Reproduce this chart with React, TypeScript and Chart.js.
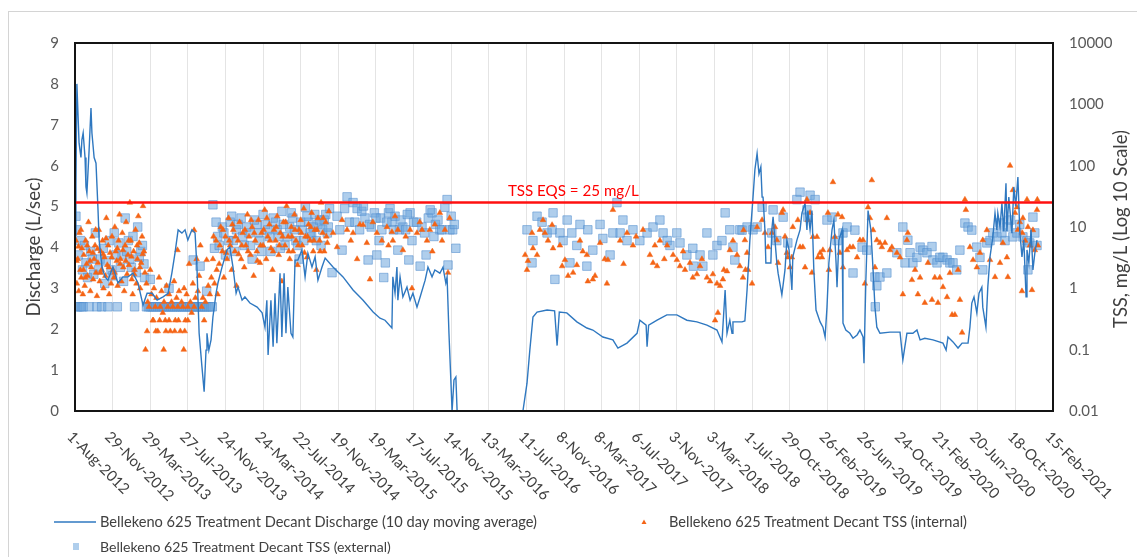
import { useEffect, useRef } from 'react';
import { Chart, registerables } from 'chart.js';

Chart.register(...registerables);

// ---------- DATA ----------
// x values are days since 1-Aug-2012 (the axis start)
const X_TICK_LABELS = [
  '1-Aug-2012', '29-Nov-2012', '29-Mar-2013', '27-Jul-2013', '24-Nov-2013', '24-Mar-2014',
  '22-Jul-2014', '19-Nov-2014', '19-Mar-2015', '17-Jul-2015', '14-Nov-2015', '13-Mar-2016',
  '11-Jul-2016', '8-Nov-2016', '8-Mar-2017', '6-Jul-2017', '3-Nov-2017', '3-Mar-2018',
  '1-Jul-2018', '29-Oct-2018', '26-Feb-2019', '26-Jun-2019', '24-Oct-2019', '21-Feb-2020',
  '20-Jun-2020', '18-Oct-2020', '15-Feb-2021',
];
const X_MIN = 0;
const X_MAX = 3120;
const X_STEP = 120;

const LEFT_TICKS = [0, 1, 2, 3, 4, 5, 6, 7, 8, 9];
const RIGHT_TICKS = [0.01, 0.1, 1, 10, 100, 1000, 10000];
const RIGHT_TICK_LABELS = ['0.01', '0.1', '1', '10', '100', '1000', '10000'];

const TSS_EQS = 25;
const EQS_LABEL = 'TSS EQS = 25 mg/L';
const EQS_LABEL_DAY = 1381;

const SERIES_NAMES = [
  'Bellekeno 625 Treatment Decant Discharge (10 day moving average)',
  'Bellekeno 625 Treatment Decant TSS (internal)',
  'Bellekeno 625 Treatment Decant TSS (external)',
];
const AXIS_LEFT_TITLE = 'Discharge (L/sec)';
const AXIS_RIGHT_TITLE = 'TSS, mg/L (Log 10 Scale)';

// Discharge (L/sec), 10 day moving average: [day, value]
const DISCHARGE: [number, number][] = [
  [0, 4.3], [3, 5.5], [6, 8.0], [13, 6.55], [19, 6.2], [22, 6.63], [26, 6.8], [32, 6.2], [35, 5.48], [38, 5.33],
  [45, 6.38], [51, 7.41], [54, 6.8], [61, 6.2], [67, 6.06], [73, 5.0], [77, 4.18], [86, 3.52], [96, 3.28], [105, 3.2],
  [121, 3.52], [137, 3.13], [153, 3.28], [169, 3.28], [185, 3.37], [201, 3.13], [217, 2.59], [230, 2.88], [246, 2.88],
  [262, 2.71], [281, 2.79], [297, 2.88], [309, 3.37], [319, 3.86], [329, 4.43], [341, 4.35], [351, 4.43], [360, 4.18],
  [373, 4.43], [383, 4.35], [389, 3.52], [396, 1.9], [405, 1.08], [412, 0.47], [418, 1.49], [421, 1.9], [427, 1.49],
  [434, 1.74], [440, 2.3], [450, 2.88], [456, 3.13], [469, 3.52], [485, 3.94], [494, 4.01], [504, 3.52], [514, 2.88],
  [520, 3.03], [533, 2.71], [542, 2.79], [558, 2.64], [581, 2.54], [597, 2.4], [606, 2.05], [612, 2.71], [616, 1.37],
  [625, 2.71], [632, 1.57], [638, 2.88], [644, 1.66], [654, 3.37], [660, 1.81], [667, 3.37], [673, 1.9], [679, 3.03],
  [689, 1.9], [695, 1.81], [702, 3.69], [711, 3.69], [724, 3.94], [734, 3.28], [743, 3.86], [756, 3.52], [766, 3.77],
  [775, 3.2], [788, 3.52], [798, 3.74], [823, 3.52], [855, 3.28], [887, 2.96], [919, 2.71], [951, 2.42], [973, 2.27],
  [989, 2.22], [1011, 2.03], [1014, 3.28], [1021, 2.88], [1027, 3.52], [1030, 2.71], [1037, 3.28], [1046, 2.79],
  [1059, 3.03], [1069, 2.71], [1078, 2.88], [1091, 2.54], [1101, 2.79], [1117, 3.2], [1126, 3.52], [1139, 3.28],
  [1148, 3.45], [1164, 3.37], [1174, 3.52], [1183, 3.13], [1187, 3.28], [1193, 1.9], [1203, 0], [1209, 0.76],
  [1215, 0.83], [1219, 0], [1429, 0], [1442, 0.68], [1451, 1.49], [1461, 2.3], [1474, 2.42], [1506, 2.47],
  [1530, 2.45], [1538, 1.6], [1545, 2.42], [1569, 2.4], [1601, 2.18], [1633, 2.03], [1652, 1.98], [1684, 1.81],
  [1716, 1.74], [1732, 1.54], [1761, 1.66], [1793, 1.9], [1802, 2.22], [1822, 2.1], [1825, 1.57], [1830, 2.1],
  [1857, 2.22], [1888, 2.35], [1920, 2.35], [1952, 2.22], [1984, 2.18], [2016, 2.1], [2048, 1.98], [2064, 1.69],
  [2074, 2.96], [2080, 1.9], [2089, 2.22], [2096, 1.9], [2099, 2.18], [2128, 2.18], [2137, 2.2], [2144, 2.96],
  [2153, 4.18], [2163, 5.23], [2169, 5.9], [2176, 6.3], [2182, 5.8], [2188, 5.97], [2192, 5.23], [2195, 5.23],
  [2201, 4.43], [2204, 3.62], [2207, 3.62], [2220, 3.62], [2223, 4.43], [2227, 4.75], [2233, 4.18], [2239, 3.62],
  [2243, 3.37], [2255, 2.84], [2265, 3.45], [2271, 4.18], [2278, 3.94], [2287, 2.96], [2290, 3.77], [2303, 4.18],
  [2313, 4.43], [2319, 4.84], [2329, 5.08], [2335, 4.43], [2338, 4.9], [2345, 4.43], [2351, 4.9], [2357, 3.45],
  [2364, 2.47], [2377, 2.18], [2386, 2.05], [2393, 1.81], [2399, 2.54], [2405, 3.62], [2415, 4.43], [2421, 4.67],
  [2428, 3.62], [2431, 3.03], [2437, 4.18], [2447, 4.43], [2450, 2.15], [2459, 1.98], [2472, 1.9], [2482, 1.78],
  [2495, 1.86], [2504, 1.98], [2514, 1.81], [2517, 1.17], [2523, 3.2], [2530, 4.9], [2539, 4.43], [2546, 3.45],
  [2552, 2.54], [2558, 2.05], [2568, 1.9], [2600, 1.93], [2632, 1.93], [2641, 1.25], [2654, 1.9], [2673, 1.9],
  [2686, 1.98], [2696, 1.74], [2711, 1.78], [2737, 1.74], [2769, 1.66], [2779, 1.49], [2785, 1.81], [2801, 1.69],
  [2817, 1.54], [2830, 1.66], [2849, 1.66], [2855, 2.05], [2861, 2.64], [2868, 2.79], [2877, 2.4], [2884, 2.88],
  [2893, 3.03], [2896, 2.54], [2906, 2.05], [2912, 3.03], [2919, 3.77], [2928, 4.25], [2935, 4.84], [2941, 4.43],
  [2944, 4.84], [2951, 4.5], [2957, 5.08], [2963, 4.4], [2970, 5.57], [2973, 4.4], [2979, 5.23], [2989, 4.35],
  [2995, 5.48], [3001, 5.0], [3008, 5.72], [3014, 4.4], [3021, 3.77], [3027, 4.18], [3034, 2.79], [3037, 3.94],
  [3043, 3.62], [3050, 4.43], [3056, 3.45], [3062, 3.86], [3069, 4.18],
];

// TSS internal (mg/L): [day, value]
const TSS_INTERNAL: [number, number][] = [
  [3, 6], [6, 1.2], [9, 3], [12, 0.9], [14, 8], [17, 2], [20, 1.5], [22, 4.5], [25, 0.8], [28, 3.5], [31, 1.1],
  [34, 6], [37, 2.5], [40, 1.6], [43, 12], [46, 4], [49, 0.9], [52, 2.2], [55, 7], [58, 1.4], [61, 3], [64, 5],
  [67, 1.8], [70, 0.75], [73, 2.6], [76, 9], [79, 1.3], [82, 4], [85, 2], [88, 6], [91, 1], [94, 3.2], [97, 1.6],
  [100, 14], [103, 2.4], [106, 5], [109, 0.8], [112, 3.8], [115, 1.2], [118, 7], [121, 2], [124, 1.5], [127, 10],
  [130, 4], [133, 2.8], [136, 1.1], [139, 6], [142, 16], [145, 3], [148, 1.3], [151, 8], [154, 2.2], [157, 0.9],
  [160, 5], [163, 12], [166, 1.7], [169, 3.5], [172, 2.4], [175, 25], [178, 6], [181, 1.4], [184, 0.8], [187, 4],
  [190, 2], [193, 9], [196, 1.2], [199, 3], [202, 15], [205, 5.5], [208, 1], [211, 2.6], [214, 7], [217, 22],
  [220, 4], [223, 1.8],
  [5, 2.8], [11, 4.8], [19, 9], [27, 2], [33, 1.5], [39, 5], [48, 2.8], [57, 3.8], [66, 9], [72, 4.4], [81, 1.8],
  [90, 3.6], [99, 6.5], [108, 2.2], [117, 3.2], [126, 1.8], [135, 4.5], [144, 2.5], [153, 4.2], [162, 2.8],
  [171, 6], [180, 3.3], [189, 1.7], [198, 5], [207, 2.2], [216, 3.6],
  [228, 1.2], [232, 0.6], [236, 0.5], [240, 2], [244, 0.8], [248, 0.3], [252, 1], [256, 0.5], [260, 0.7], [264, 0.2],
  [268, 1.5], [272, 0.5], [276, 0.9], [280, 0.4], [284, 0.6], [288, 0.3], [292, 1.1], [296, 0.5], [300, 0.8],
  [304, 0.2], [308, 0.6], [312, 0.5], [316, 1.3], [320, 0.3], [324, 0.7], [328, 0.5], [332, 0.9], [336, 0.2],
  [340, 0.6], [344, 0.5], [348, 1], [352, 0.3], [356, 0.8], [360, 0.5], [364, 2.5], [368, 0.6], [372, 0.4],
  [376, 1.2], [380, 0.5], [384, 0.7], [388, 3], [392, 0.9], [396, 1.6], [400, 5], [404, 0.5], [408, 0.7], [412, 0.3],
  [416, 0.6], [225, 0.1], [283, 0.1], [347, 0.1], [230, 0.2], [258, 0.2], [290, 0.2], [318, 0.2], [350, 0.2],
  [380, 8.9], [327, 4.2], [250, 0.3], [270, 0.3], [300, 0.3], [330, 0.3], [360, 0.3], [420, 2.9], [425, 1.1],
  [430, 0.8], [435, 1.5],
  [440, 3], [445, 1.2], [450, 6], [455, 0.8], [460, 2.5], [465, 10], [470, 4], [475, 1.5], [480, 7], [485, 3],
  [490, 14], [495, 5], [500, 2], [505, 9], [510, 4], [515, 1.1], [520, 6], [525, 12], [530, 3], [535, 8], [540, 2.2],
  [545, 5], [550, 16], [555, 7], [560, 3.5], [565, 10], [570, 1.6], [575, 6], [580, 4], [585, 13], [590, 2.6],
  [595, 8], [600, 5], [605, 19], [610, 3], [615, 7], [620, 11], [625, 4.5], [630, 2], [635, 9], [640, 6], [645, 15],
  [650, 3.5], [655, 8], [660, 1.3], [665, 12], [670, 5], [675, 22], [680, 7], [685, 3], [690, 10], [695, 4],
  [700, 16], [705, 6], [710, 2.4], [715, 9], [720, 13], [725, 5], [730, 20], [735, 7], [740, 3.2], [745, 11],
  [750, 6], [755, 17], [760, 4], [765, 9], [770, 2], [775, 14], [780, 6], [785, 25], [790, 8], [795, 4], [800, 12],
  [805, 5.5], [810, 18],
  [442, 7], [452, 2], [462, 5], [472, 9], [482, 3.8], [492, 6], [502, 11], [512, 7], [522, 3.6], [532, 5], [542, 9],
  [552, 4], [562, 13], [572, 8], [582, 2.8], [592, 5], [602, 9], [612, 14], [622, 6], [632, 4], [642, 10], [652, 5],
  [662, 7], [672, 12], [682, 4], [692, 7], [702, 9], [712, 5], [722, 8], [732, 3.8], [742, 7], [752, 10], [762, 6],
  [772, 9], [782, 4], [792, 14], [802, 7],
  [823, 8], [836, 4.7], [852, 13], [868, 9], [880, 6], [887, 8], [900, 3], [909, 11], [919, 10.8], [931, 5.5],
  [941, 1.4], [950, 12], [963, 8], [979, 6], [995, 10], [1000, 5], [1011, 8.3], [1014, 6], [1021, 15], [1030, 9],
  [1046, 4.2], [1055, 7], [1069, 9], [1075, 1], [1091, 8], [1100, 12], [1107, 9], [1123, 6], [1132, 9], [1140, 4],
  [1148, 11], [1164, 17], [1171, 6], [1180, 9], [1190, 1.8], [1195, 14],
  [1436, 3.5], [1442, 2], [1445, 2.8], [1458, 8], [1461, 4.5], [1474, 3.5], [1483, 9], [1493, 13], [1499, 8],
  [1509, 6], [1522, 10.8], [1525, 4.5], [1547, 5], [1554, 2.3], [1563, 2.9], [1573, 1.6], [1589, 1.8], [1601, 2.4],
  [1611, 6], [1620, 4], [1633, 3.5], [1636, 1.3], [1652, 1.4], [1659, 1.6], [1675, 5.5], [1690, 3], [1697, 1.2],
  [1700, 2.9], [1716, 19], [1739, 6], [1750, 2.5], [1761, 8], [1780, 5], [1790, 7], [1812, 9], [1834, 3.5],
  [1844, 2.6], [1850, 5], [1857, 2.3], [1866, 6], [1880, 3], [1889, 5], [1908, 3.5], [1920, 2.9], [1930, 2.3],
  [1940, 4], [1946, 2], [1962, 2.6], [1971, 1.5], [1984, 1.7], [1994, 2.3], [2000, 3], [2016, 1.5], [2026, 1.3],
  [2035, 1.7], [2042, 0.3], [2048, 1.2], [2051, 0.4], [2058, 1.1], [2067, 1.4], [2070, 2], [2080, 1.9], [2089, 4.2],
  [2099, 6], [2112, 3.5], [2121, 2.3], [2131, 1.5],
  [2133, 8.9], [2137, 6.1], [2139, 2], [2144, 3.8], [2147, 2], [2160, 1.2], [2176, 10], [2192, 13], [2201, 8],
  [2211, 4.7], [2223, 8], [2233, 10], [2239, 6.1], [2243, 2.6], [2255, 17], [2259, 19], [2265, 7], [2271, 3.8],
  [2274, 3.2], [2281, 2.2], [2287, 3.2], [2290, 10], [2306, 13], [2313, 4.7], [2322, 4.7], [2329, 2.2], [2335, 28],
  [2338, 13], [2345, 17], [2351, 1.8], [2354, 6.9], [2367, 6.9], [2370, 3.2], [2377, 3.8], [2383, 3.2], [2386, 4.2],
  [2402, 17], [2405, 2], [2408, 4.2], [2418, 54], [2424, 6.9], [2434, 16], [2440, 3.8], [2447, 14.5], [2450, 2.2],
  [2463, 4.2], [2472, 4.7], [2482, 4.7], [2495, 3.2], [2504, 6.1], [2514, 6.1], [2520, 1.2], [2530, 21], [2536, 14],
  [2542, 58], [2546, 8.9], [2552, 2.2], [2558, 6.1], [2568, 5.5], [2574, 4.7], [2584, 5.5], [2590, 14], [2600, 4.2],
  [2606, 4.7], [2622, 3.8], [2632, 3.2], [2641, 0.8], [2654, 6.1], [2657, 8], [2670, 1.37], [2680, 2], [2689, 0.8],
  [2696, 1.5], [2711, 0.58], [2721, 2.6], [2734, 0.65], [2743, 1.5], [2753, 0.58], [2759, 1.5], [2769, 1.05],
  [2782, 0.72], [2791, 1.78], [2798, 0.37], [2807, 0.37], [2817, 2], [2823, 0.65], [2830, 0.19], [2839, 28],
  [2842, 19], [2855, 4.7], [2865, 2.9], [2877, 2.2], [2887, 3.8], [2896, 6.1], [2909, 8.9], [2919, 2.9],
  [2935, 1.53], [2951, 2.6], [2960, 5.5], [2973, 3.2], [2976, 1.53], [2983, 100], [2992, 40], [2999, 17], [3005, 21],
  [3008, 9], [3014, 12], [3021, 0.9], [3022, 8], [3024, 14], [3031, 6], [3037, 28], [3040, 10], [3046, 5],
  [3053, 0.94], [3056, 8.9], [3062, 4.2], [3069, 19], [3070, 28], [3072, 5],
];

// TSS external (mg/L): [day, value]
const TSS_EXTERNAL: [number, number][] = [
  [3, 15], [6, 9], [8, 0.5], [14, 0.5], [20, 0.5], [26, 0.5], [35, 2.6], [45, 0.5], [50, 4], [60, 1.7], [70, 0.5],
  [80, 3], [85, 0.5], [95, 1.2], [105, 0.5], [115, 2], [125, 8], [135, 0.5], [150, 3.5], [160, 14], [170, 6],
  [180, 2.2], [190, 0.5], [200, 10], [210, 4], [220, 2.5],
  [10, 3.5], [18, 6], [24, 2], [30, 5], [40, 1.5], [55, 3], [65, 8], [75, 2], [90, 4.5], [100, 2.8], [110, 6],
  [120, 1.6], [130, 3.5], [140, 5.5], [145, 2.2], [155, 1.3], [165, 4], [175, 3], [185, 7], [195, 1.8], [205, 3.2],
  [215, 5], [222, 1.5],
  [228, 0.5], [234, 0.5], [240, 0.5], [246, 0.5], [252, 0.5], [258, 0.5], [264, 0.5], [270, 0.5], [276, 0.5],
  [282, 0.5], [288, 0.5], [294, 0.5], [300, 0.5], [306, 0.5], [312, 0.5], [318, 0.5], [324, 0.5], [330, 0.5],
  [336, 0.5], [342, 0.5], [348, 0.5], [354, 0.5], [360, 0.5], [366, 0.5], [372, 0.5], [378, 0.5], [384, 0.5],
  [390, 0.5], [396, 0.5], [402, 0.5], [408, 0.5], [414, 0.5], [420, 0.5], [426, 0.5], [432, 0.5], [438, 0.5],
  [240, 1.4], [300, 1], [377, 2.9], [399, 2.3], [420, 0.9],
  [440, 23], [445, 4.5], [455, 7], [470, 10], [480, 3.5], [495, 12], [505, 6], [515, 9], [530, 14], [540, 5],
  [555, 8], [565, 3], [580, 11], [590, 6], [600, 16], [615, 9], [625, 4], [640, 12], [650, 7], [660, 18], [670, 5],
  [685, 10], [695, 14], [705, 6], [715, 3], [725, 9], [735, 21], [745, 12], [755, 7], [765, 16], [775, 11],
  [785, 5], [795, 13], [805, 8], [812, 20],
  [450, 12], [460, 5], [475, 8], [490, 6], [500, 15], [510, 4], [520, 11], [535, 7], [548, 10], [560, 5], [572, 13],
  [585, 8], [595, 4], [608, 11], [620, 7], [632, 14], [645, 9], [655, 4.5], [665, 11], [678, 7], [690, 17], [700, 9],
  [710, 5], [720, 12], [730, 6], [740, 15], [750, 8], [760, 10], [770, 6], [780, 13], [790, 9], [800, 16], [808, 10],
  [820, 1.8], [836, 15], [852, 4.2], [868, 31], [875, 12], [887, 25], [900, 20], [915, 18], [925, 14], [935, 2.9],
  [945, 10], [955, 17], [963, 3.5], [975, 14], [979, 9], [985, 1.5], [990, 2.6], [1000, 17], [1011, 12], [1021, 15],
  [1030, 4.2], [1035, 9], [1046, 10], [1055, 9], [1065, 2.9], [1069, 17], [1080, 12], [1101, 2.3], [1107, 10],
  [1120, 3.5], [1127, 14], [1139, 17], [1150, 11], [1164, 9], [1180, 21], [1187, 28], [1190, 2.4], [1196, 9],
  [1205, 9], [1215, 4.5],
  [845, 9], [860, 20], [893, 12], [908, 9], [920, 22], [940, 11], [960, 14], [970, 6], [995, 12], [1005, 20],
  [1016, 9], [1040, 13], [1060, 16], [1075, 6], [1090, 12], [1115, 8], [1133, 19], [1145, 7], [1158, 13],
  [1170, 9], [1200, 15], [1210, 11],
  [1442, 9], [1458, 2.6], [1461, 6], [1474, 15], [1490, 12], [1506, 8], [1522, 9], [1525, 17], [1531, 1.4],
  [1547, 8], [1557, 6], [1570, 13], [1579, 2.6], [1585, 8], [1601, 5], [1611, 11], [1633, 2.3], [1636, 9],
  [1652, 4.2], [1675, 11], [1684, 6.5], [1707, 3.5], [1716, 8], [1729, 25], [1739, 8], [1748, 13], [1761, 6],
  [1780, 9], [1802, 6], [1825, 8], [1844, 10], [1866, 13], [1876, 8], [1889, 6], [1898, 5], [1920, 8], [1930, 5.5],
  [1952, 3.5], [1971, 4.5], [1973, 2.3], [1994, 3.5], [2003, 2.3], [2016, 8], [2035, 3.5], [2048, 5], [2064, 6],
  [2074, 17], [2089, 9], [2099, 4.7], [2105, 2.9], [2121, 9], [2128, 8.9], [2144, 10], [2163, 9], [2176, 10],
  [2192, 21], [2227, 19], [2223, 8], [2239, 6], [2259, 14.5], [2274, 5.5], [2313, 37], [2303, 28], [2345, 33],
  [2361, 28], [2335, 19], [2338, 14.5], [2399, 13], [2415, 14.5], [2431, 6], [2450, 8], [2463, 10], [2488, 8.9],
  [2482, 1.78], [2511, 4.7], [2526, 4.2], [2552, 1.53], [2558, 1.1], [2568, 1.53], [2590, 1.78], [2553, 0.5],
  [2622, 3.8], [2641, 10], [2648, 2.6], [2657, 6.1], [2664, 3.8], [2673, 2.6], [2686, 3.2], [2696, 4.7], [2705, 4.2],
  [2718, 3.8], [2734, 4.8], [2737, 2.9], [2750, 2.6], [2759, 3.2], [2769, 3.2], [2782, 2.9], [2791, 2.6],
  [2801, 2.6], [2813, 2], [2823, 4.2], [2839, 11.6], [2849, 10], [2861, 8.9], [2877, 4.7], [2887, 3.2], [2896, 2],
  [2909, 5.5], [2919, 6], [2928, 8], [2941, 6.9], [2951, 11.6], [2957, 8], [2967, 6], [2973, 10], [2983, 13],
  [2992, 6.9], [3005, 8], [3014, 11], [3024, 6.9], [3037, 6], [3040, 2], [3046, 5.5], [3056, 14.5], [3062, 8],
  [3069, 5],
];

// ---------- STYLE ----------
const FONT = 'Lato, "Noto Sans", sans-serif';
const LINE_COLOR = '#2F78C0';
const ORANGE = 'rgb(244,100,22)';
const SQUARE_FILL = 'rgba(110,165,220,0.55)';
const SQUARE_EDGE = 'rgba(80,140,205,0.55)';
const TEXT_COLOR = '#404040';
const TICK_COLOR = '#595959';

function fitFont(ctx: CanvasRenderingContext2D, text: string, width: number, weight = '') {
  ctx.font = `${weight} 20px ${FONT}`;
  const w = ctx.measureText(text).width;
  const size = (20 * width) / w;
  return `${weight} ${size.toFixed(2)}px ${FONT}`;
}

const decorPlugin = {
  id: 'decor',
  afterDraw(chart: any) {
    const { ctx, chartArea: a, scales } = chart;
    const xs = scales.x;
    const yR = scales.y1;
    ctx.save();

    // outer chart frame
    ctx.strokeStyle = '#D4D4D4';
    ctx.lineWidth = 1;
    ctx.strokeRect(8.5, 11.5, 1140, 560);

    // EQS label
    ctx.fillStyle = '#FF0000';
    ctx.font = fitFont(ctx, EQS_LABEL, 131);
    ctx.textAlign = 'left';
    ctx.textBaseline = 'alphabetic';
    ctx.fillText(EQS_LABEL, xs.getPixelForValue(EQS_LABEL_DAY), yR.getPixelForValue(TSS_EQS) - 7);

    // plot border
    ctx.strokeStyle = '#141414';
    ctx.lineWidth = 2;
    ctx.strokeRect(a.left, a.top, a.right - a.left, a.bottom - a.top);

    // rotated x tick labels
    ctx.fillStyle = TEXT_COLOR;
    ctx.font = `15px ${FONT}`;
    ctx.textAlign = 'left';
    ctx.textBaseline = 'top';
    xs.ticks.forEach((t: any, i: number) => {
      const label = X_TICK_LABELS[i];
      if (!label) return;
      const px = xs.getPixelForValue(t.value);
      ctx.save();
      ctx.translate(px, a.bottom + 18);
      ctx.rotate(Math.PI / 4);
      ctx.fillText(label, 0, 0);
      ctx.restore();
    });

    // axis titles
    ctx.fillStyle = TEXT_COLOR;
    ctx.textAlign = 'center';
    ctx.textBaseline = 'middle';
    ctx.save();
    ctx.translate(34, 247);
    ctx.rotate(-Math.PI / 2);
    ctx.font = fitFont(ctx, AXIS_LEFT_TITLE, 139);
    ctx.fillText(AXIS_LEFT_TITLE, 0, 0);
    ctx.restore();
    ctx.save();
    ctx.translate(1121, 229);
    ctx.rotate(-Math.PI / 2);
    ctx.font = fitFont(ctx, AXIS_RIGHT_TITLE, 198);
    ctx.fillText(AXIS_RIGHT_TITLE, 0, 0);
    ctx.restore();

    // legend
    ctx.textAlign = 'left';
    ctx.textBaseline = 'middle';
    ctx.strokeStyle = LINE_COLOR;
    ctx.lineWidth = 1.5;
    ctx.beginPath();
    ctx.moveTo(54, 522);
    ctx.lineTo(96, 522);
    ctx.stroke();
    ctx.fillStyle = TEXT_COLOR;
    ctx.font = fitFont(ctx, SERIES_NAMES[0], 437);
    ctx.fillText(SERIES_NAMES[0], 100, 522);

    ctx.fillStyle = ORANGE;
    ctx.beginPath();
    ctx.moveTo(644, 519.5);
    ctx.lineTo(646.5, 524);
    ctx.lineTo(641.5, 524);
    ctx.closePath();
    ctx.fill();
    ctx.fillStyle = TEXT_COLOR;
    ctx.font = fitFont(ctx, SERIES_NAMES[1], 298);
    ctx.fillText(SERIES_NAMES[1], 669, 522);

    ctx.fillStyle = SQUARE_FILL;
    ctx.fillRect(73, 543, 6, 7);
    ctx.fillStyle = TEXT_COLOR;
    ctx.font = fitFont(ctx, SERIES_NAMES[2], 291);
    ctx.fillText(SERIES_NAMES[2], 100, 547);

    ctx.restore();
  },
};

export default function App() {
  const canvasRef = useRef<HTMLCanvasElement | null>(null);

  useEffect(() => {
    const canvas = canvasRef.current;
    if (!canvas) return;
    const chart = new Chart(canvas, {
      type: 'line',
      data: {
        datasets: [
          {
            label: 'EQS',
            data: [{ x: X_MIN, y: TSS_EQS }, { x: X_MAX, y: TSS_EQS }],
            yAxisID: 'y1',
            borderColor: '#FF1010',
            borderWidth: 2.5,
            pointRadius: 0,
            order: -1,
          },
          {
            label: SERIES_NAMES[0],
            data: DISCHARGE.map(([x, y]) => ({ x, y })),
            yAxisID: 'y',
            borderColor: LINE_COLOR,
            borderWidth: 1.4,
            pointRadius: 0,
            tension: 0,
            order: 0,
          },
          {
            label: SERIES_NAMES[1],
            data: TSS_INTERNAL.map(([x, y]) => ({ x, y })),
            yAxisID: 'y1',
            showLine: false,
            pointStyle: 'triangle',
            pointRadius: 3.3,
            backgroundColor: ORANGE,
            borderColor: ORANGE,
            borderWidth: 0.5,
            order: 1,
          },
          {
            label: SERIES_NAMES[2],
            data: TSS_EXTERNAL.map(([x, y]) => ({ x, y })),
            yAxisID: 'y1',
            showLine: false,
            pointStyle: 'rect',
            pointRadius: 6,
            backgroundColor: SQUARE_FILL,
            borderColor: SQUARE_EDGE,
            borderWidth: 1,
            order: 2,
          },
        ] as any,
      },
      options: {
        animation: false,
        responsive: false,
        maintainAspectRatio: false,
        devicePixelRatio: 1,
        layout: { padding: { top: 43, bottom: 146, left: 0, right: 0 } },
        plugins: { legend: { display: false }, tooltip: { enabled: false } },
        scales: {
          x: {
            type: 'linear',
            min: X_MIN,
            max: X_MAX,
            ticks: { stepSize: X_STEP, display: false },
            grid: { color: '#E4E4E4', drawTicks: false, lineWidth: 1 },
            border: { display: false },
            afterFit: (s: any) => { s.height = 0; },
          },
          y: {
            position: 'left',
            min: LEFT_TICKS[0],
            max: LEFT_TICKS[LEFT_TICKS.length - 1],
            ticks: { stepSize: 1, padding: 16, color: TICK_COLOR, font: { family: FONT, size: 15 } },
            grid: { display: false, drawTicks: false },
            border: { display: false },
            afterFit: (s: any) => { s.width = 75; },
          },
          y1: {
            type: 'logarithmic',
            position: 'right',
            min: RIGHT_TICKS[0],
            max: RIGHT_TICKS[RIGHT_TICKS.length - 1],
            afterBuildTicks: (s: any) => { s.ticks = RIGHT_TICKS.map((v) => ({ value: v })); },
            ticks: {
              padding: 16,
              color: TICK_COLOR,
              font: { family: FONT, size: 15 },
              callback: (v: any) => {
                const i = RIGHT_TICKS.indexOf(Number(v));
                return i >= 0 ? RIGHT_TICK_LABELS[i] : '';
              },
            },
            grid: { display: false, drawTicks: false },
            border: { display: false },
            afterFit: (s: any) => { s.width = 84; },
          },
        } as any,
      },
      plugins: [decorPlugin],
    });
    return () => chart.destroy();
  }, []);

  return (
    <div style={{ position: 'fixed', left: 0, top: 0, width: 1137, height: 557, background: '#fff' }}>
      <canvas ref={canvasRef} width={1137} height={557} style={{ width: 1137, height: 557, display: 'block' }} />
    </div>
  );
}
